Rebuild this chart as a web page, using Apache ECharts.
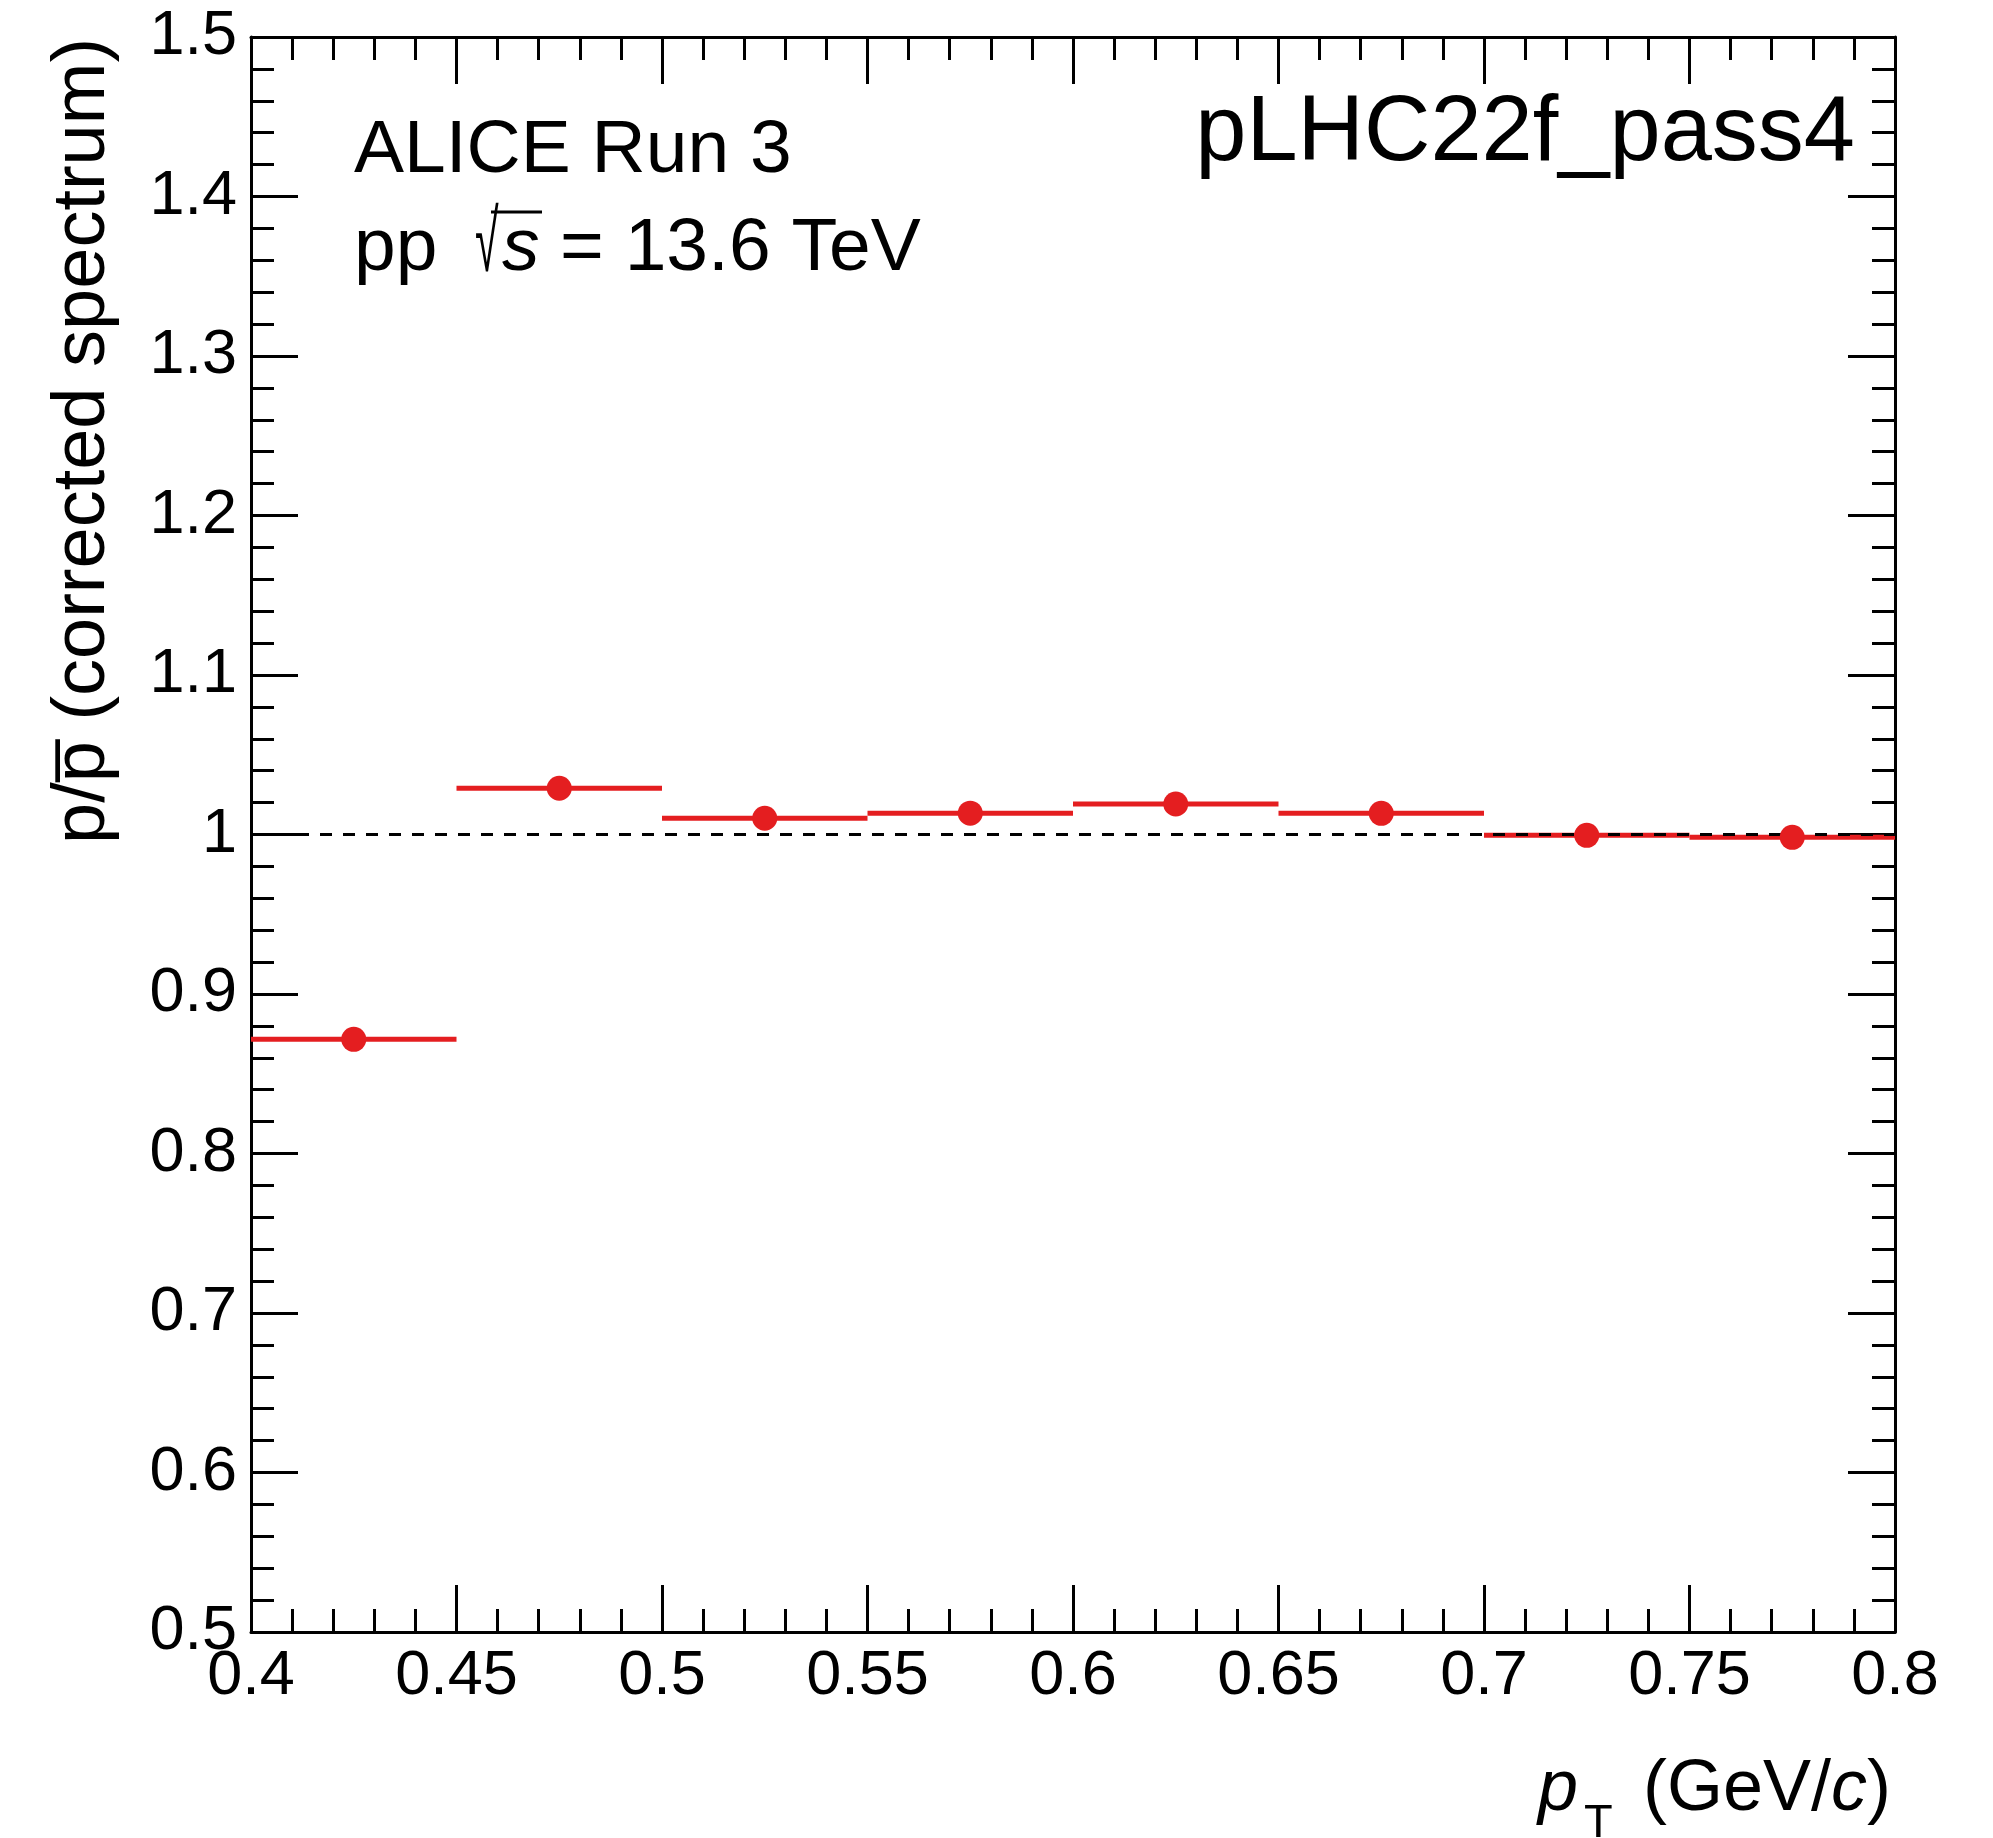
<!DOCTYPE html>
<html>
<head>
<meta charset="utf-8">
<script src="https://cdn.jsdelivr.net/npm/echarts@6/dist/echarts.min.js"></script>
<style>
html,body{margin:0;padding:0;background:#fff;}
#chart{width:1993px;height:1838px;}
</style>
</head>
<body>
<div id="chart"></div>
<script>
// ---- data ----
const binLow  = [0.40, 0.45, 0.50, 0.55, 0.60, 0.65, 0.70, 0.75];
const binHigh = [0.45, 0.50, 0.55, 0.60, 0.65, 0.70, 0.75, 0.80];
const ratio   = [0.8716, 1.0290, 1.0102, 1.0134, 1.0191, 1.0133, 0.9995, 0.9982];
const refLine = [[0.4, 1.0], [0.8, 1.0]];

const RED = '#e41e20';
const FONT = '"Liberation Sans", Arial, Helvetica, sans-serif';

const barData = binLow.map((lo, i) => [lo, binHigh[i], ratio[i]]);
const pointData = binLow.map((lo, i) => [(lo + binHigh[i]) / 2, ratio[i]]);

const chart = echarts.init(document.getElementById('chart'), null, {renderer: 'canvas'});

function axisCommon(showLabel) {
  return {
    type: 'value',
    axisLine: {show: true, onZero: false, lineStyle: {color: '#000', width: 3}},
    axisTick: {show: true, inside: true, length: 47, lineStyle: {color: '#000', width: 3}},
    minorTick: {show: true, splitNumber: 5, length: 23, lineStyle: {color: '#000', width: 3}},
    splitLine: {show: false},
    minorSplitLine: {show: false},
    axisLabel: {show: showLabel, color: '#000', fontSize: 63, fontFamily: FONT}
  };
}

const option = {
  animation: false,
  backgroundColor: '#fff',
  grid: {left: 251, right: 98, top: 37, bottom: 206, containLabel: false},
  xAxis: [
    Object.assign(axisCommon(true), {min: 0.4, max: 0.8, interval: 0.05, position: 'bottom',
      axisLabel: {show: true, color: '#000', fontSize: 63, fontFamily: FONT, margin: 13}}),
    Object.assign(axisCommon(false), {min: 0.4, max: 0.8, interval: 0.05, position: 'top'})
  ],
  yAxis: [
    Object.assign(axisCommon(true), {min: 0.5, max: 1.5, interval: 0.1, position: 'left',
      axisLabel: {show: true, color: '#000', fontSize: 63, fontFamily: FONT, margin: 14}}),
    Object.assign(axisCommon(false), {min: 0.5, max: 1.5, interval: 0.1, position: 'right'})
  ],
  series: [
    {
      type: 'custom',
      name: 'xerr',
      z: 2,
      data: barData,
      encode: {x: [0, 1], y: 2},
      renderItem: function (params, api) {
        const p1 = api.coord([api.value(0), api.value(2)]);
        const p2 = api.coord([api.value(1), api.value(2)]);
        return {
          type: 'line',
          shape: {x1: p1[0], y1: p1[1], x2: p2[0], y2: p2[1]},
          style: {stroke: RED, lineWidth: 5}
        };
      }
    },
    {
      type: 'line',
      name: 'ref',
      z: 3,
      data: refLine,
      showSymbol: false,
      symbol: 'none',
      lineStyle: {color: '#000', width: 3, type: [12, 11]}
    },
    {
      type: 'scatter',
      name: 'ratio',
      z: 4,
      data: pointData,
      symbol: 'circle',
      symbolSize: 25,
      itemStyle: {color: RED, opacity: 1}
    }
  ],
  graphic: [
    {type: 'text', x: 354, y: 151, style: {text: 'ALICE Run 3', font: '75px ' + FONT, fill: '#000', textAlign: 'left', textVerticalAlign: 'middle'}},
    {type: 'text', x: 354, y: 249, style: {text: 'pp', font: '75px ' + FONT, fill: '#000', textAlign: 'left', textVerticalAlign: 'middle'}},
    {type: 'text', x: 475, y: 247, scaleX: 0.5, style: {text: '\u221A', font: '86px ' + FONT, fill: '#000', textAlign: 'left', textVerticalAlign: 'middle'}},
    {type: 'line', shape: {x1: 491, y1: 212, x2: 542, y2: 212}, style: {stroke: '#000', lineWidth: 3}},
    {type: 'text', x: 502, y: 249, style: {text: 's', font: 'italic 75px ' + FONT, fill: '#000', textAlign: 'left', textVerticalAlign: 'middle'}},
    {type: 'text', x: 560, y: 249, style: {text: '= 13.6 TeV', font: '75px ' + FONT, fill: '#000', textAlign: 'left', textVerticalAlign: 'middle'}},
    {type: 'text', x: 1855, y: 135, style: {text: 'pLHC22f_pass4', font: '92px ' + FONT, fill: '#000', textAlign: 'right', textVerticalAlign: 'middle'}},
    {type: 'text', x: 1538, y: 1790, style: {text: 'p', font: 'italic 72px ' + FONT, fill: '#000', textAlign: 'left', textVerticalAlign: 'middle'}},
    {type: 'text', x: 1584, y: 1824, style: {text: 'T', font: '47px ' + FONT, fill: '#000', textAlign: 'left', textVerticalAlign: 'middle'}},
    {type: 'text', x: 1643, y: 1790, style: {
      text: '(GeV/{i|c})', font: '72px ' + FONT, fill: '#000', textAlign: 'left', textVerticalAlign: 'middle',
      rich: {i: {fontStyle: 'italic', fontSize: 72, fontFamily: FONT, fill: '#000'}}
    }},
    {type: 'text', x: 84, y: 441, rotation: Math.PI / 2, style: {text: 'p/p\u0305 (corrected spectrum)', font: '74px ' + FONT, fill: '#000', textAlign: 'center', textVerticalAlign: 'middle'}}
  ]
};
chart.setOption(option);
</script>
</body>
</html>
